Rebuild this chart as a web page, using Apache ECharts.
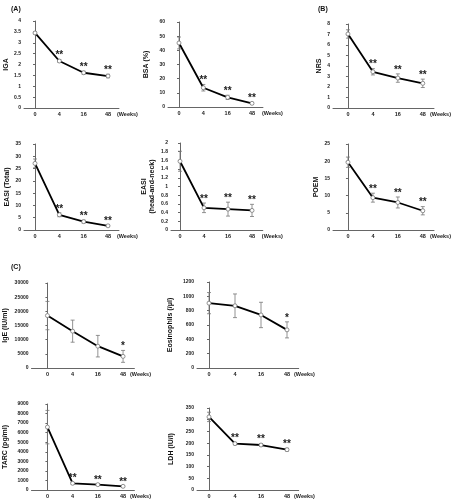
<!DOCTYPE html>
<html><head><meta charset="utf-8">
<script src="https://cdn.jsdelivr.net/npm/echarts@6/dist/echarts.min.js"></script>
<style>html,body{margin:0;padding:0;background:#fff}#c{width:452px;height:500px}</style>
</head><body><div id="c"></div>
<script>
// ---- data ----
const weeks = ['0', '4', '16', '48'];

const igaMean = [3.45, 2.16, 1.62, 1.47];
const igaErr  = [0.05, 0.06, 0.07, 0.08];
const igaSig  = ['', '**', '**', '**'];

const bsaMean = [45.2, 13.6, 6.8, 2.6];
const bsaErr  = [4.2, 2.3, 1.5, 0.6];
const bsaSig  = ['', '**', '**', '**'];

const nrsMean = [7.05, 3.45, 2.85, 2.35];
const nrsErr  = [0.4, 0.3, 0.4, 0.4];
const nrsSig  = ['', '**', '**', '**'];

const easiMean = [27.1, 6.2, 3.4, 1.7];
const easiErr  = [1.8, 0.8, 0.6, 0.3];
const easiSig  = ['', '**', '**', '**'];

const easiHnMean = [1.58, 0.51, 0.48, 0.45];
const easiHnErr  = [0.23, 0.11, 0.16, 0.14];
const easiHnSig  = ['', '**', '**', '**'];

const poemMean = [19.7, 9.4, 8.0, 5.6];
const poemErr  = [1.5, 1.3, 1.6, 1.2];
const poemSig  = ['', '**', '**', '**'];

const igeMean = [18500, 13000, 7700, 4100];
const igeErr  = [5000, 3900, 3800, 2100];
const igeSig  = ['', '', '', '*'];

const eosMean = [905, 868, 740, 532];
const eosErr  = [148, 165, 177, 112];
const eosSig  = ['', '', '', '*'];

const tarcMean = [6580, 700, 560, 385];
const tarcErr  = [1750, 80, 70, 50];
const tarcSig  = ['', '**', '**', '**'];

const ldhMean = [312, 198, 192, 172];
const ldhErr  = [20, 5, 6, 6];
const ldhSig  = ['', '**', '**', '**'];

// y-axis settings
const yNames = ['IGA', 'BSA (%)', 'NRS', 'EASI (Total)', 'EASI\n(head-and-neck)', 'POEM',
                'IgE (IU/ml)', 'Eosinophils (/μl)', 'TARC (pg/ml)', 'LDH (IU/l)'];
const yMax = [4, 60, 8, 35, 2, 25, 30000, 1200, 9000, 350];
const yStep = [0.5, 10, 1, 5, 0.2, 5, 5000, 200, 1000, 50];

const means = [igaMean, bsaMean, nrsMean, easiMean, easiHnMean, poemMean, igeMean, eosMean, tarcMean, ldhMean];
const errs = [igaErr, bsaErr, nrsErr, easiErr, easiHnErr, poemErr, igeErr, eosErr, tarcErr, ldhErr];
const sigs = [igaSig, bsaSig, nrsSig, easiSig, easiHnSig, poemSig, igeSig, eosSig, tarcSig, ldhSig];

// ---- layout (pixels) ----
const layout = [
  {yx: 24,  c0: 35,  c3: 108, top: 21,  bot: 108, ng: 10.5, wg: -2},
  {yx: 168, c0: 179, c3: 252, top: 22,  bot: 107, ng: 17.5, wg: -1},
  {yx: 333, c0: 348, c3: 423, top: 24,  bot: 108, ng: 8.5,  wg: -4},
  {yx: 24,  c0: 35,  c3: 108, top: 144, bot: 230, ng: 10.5, wg: -2},
  {yx: 171, c0: 180, c3: 252, top: 143, bot: 230, ng: 14.5, wg: -1},
  {yx: 333, c0: 348, c3: 423, top: 144, bot: 230, ng: 11.5, wg: -4},
  {yx: 31,  c0: 47,  c3: 123, top: 283, bot: 368, ng: 22,   wg: -6},
  {yx: 197, c0: 209, c3: 287, top: 282, bot: 368, ng: 23,   wg: -7},
  {yx: 31,  c0: 47,  c3: 123, top: 404, bot: 490, ng: 22,   wg: -6},
  {yx: 197, c0: 209, c3: 287, top: 408, bot: 490, ng: 21.5, wg: -7}
];
const XMAX = 3.45;
const FONT = '"Liberation Sans", Arial, sans-serif';

const grids = [], xAxes = [], yAxes = [], series = [];
layout.forEach((p, i) => {
  const s = (p.c3 - p.c0) / 3;
  const a = (p.c0 - p.yx) / s;
  const w = (XMAX + a) * s;
  grids.push({left: p.yx, top: p.top, width: w, height: p.bot - p.top, containLabel: false});
  xAxes.push({
    type: 'value', gridIndex: i, min: -a, max: XMAX,
    axisLine: {lineStyle: {color: '#666', width: 1}},
    axisTick: {show: false},
    splitLine: {show: false},
    axisLabel: {customValues: [0, 1, 2, 3], formatter: v => weeks[Math.round(v)],
      fontSize: 5.5, fontWeight: 'bold', color: '#222', fontFamily: FONT, margin: 3.5},
    name: '(Weeks)', nameLocation: 'end', nameGap: p.wg,
    nameTextStyle: {fontSize: 5.5, fontWeight: 'bold', color: '#222', fontFamily: FONT,
      verticalAlign: 'top', padding: [3.5, 0, 0, 0]}
  });
  yAxes.push({
    type: 'value', gridIndex: i, min: 0, max: yMax[i], interval: yStep[i],
    axisLine: {show: true, lineStyle: {color: '#666', width: 1}},
    axisTick: {show: true, length: 2, lineStyle: {color: '#666'}},
    splitLine: {show: false},
    axisLabel: {fontSize: 5, fontWeight: 'bold', color: '#222', fontFamily: FONT, margin: 3,
      formatter: v => String(+v.toFixed(2))},
    name: yNames[i], nameLocation: 'middle', nameGap: p.ng,
    nameTextStyle: {fontSize: 7, fontWeight: 'bold', color: '#111', fontFamily: FONT, lineHeight: 8.5}
  });
  const sig = sigs[i];
  series.push({
    type: 'custom', xAxisIndex: i, yAxisIndex: i, z: 2,
    data: means[i].map((m, k) => [k, m, errs[i][k]]),
    renderItem: function (params, api) {
      const x = api.value(0), m = api.value(1), e = api.value(2);
      const hi = api.coord([x, m + e]), lo = api.coord([x, m - e]);
      const st = {stroke: '#777', lineWidth: 0.8};
      const cw = 2;
      const ch = [
        {type: 'line', shape: {x1: hi[0], y1: hi[1], x2: lo[0], y2: lo[1]}, style: st},
        {type: 'line', shape: {x1: hi[0] - cw, y1: hi[1], x2: hi[0] + cw, y2: hi[1]}, style: st},
        {type: 'line', shape: {x1: lo[0] - cw, y1: lo[1], x2: lo[0] + cw, y2: lo[1]}, style: st}
      ];
      const t = sig[params.dataIndex];
      if (t) {
        ch.push({type: 'text', z2: 10, style: {text: t, x: hi[0], y: hi[1] + 1,
          align: 'center', verticalAlign: 'bottom', textAlign: 'center', textVerticalAlign: 'bottom',
          font: 'bold 10px ' + FONT, fill: '#222'}});
      }
      return {type: 'group', children: ch};
    }
  });
  series.push({
    type: 'line', xAxisIndex: i, yAxisIndex: i, z: 3,
    data: means[i].map((m, k) => [k, m]),
    lineStyle: {color: '#000', width: 1.8},
    symbol: 'circle', symbolSize: 4,
    itemStyle: {color: '#fff', borderColor: '#777', borderWidth: 0.8}
  });
});

const chart = echarts.init(document.getElementById('c'), null, {renderer: 'canvas'});
chart.setOption({
  animation: false,
  backgroundColor: '#fff',
  title: [
    {text: '(A)', left: 6, top: 1, textStyle: {fontSize: 7, fontWeight: 'bold', color: '#111', fontFamily: FONT}},
    {text: '(B)', left: 313, top: 1, textStyle: {fontSize: 7, fontWeight: 'bold', color: '#111', fontFamily: FONT}},
    {text: '(C)', left: 6, top: 259, textStyle: {fontSize: 7, fontWeight: 'bold', color: '#111', fontFamily: FONT}}
  ],
  grid: grids, xAxis: xAxes, yAxis: yAxes, series: series
});
</script></body></html>
